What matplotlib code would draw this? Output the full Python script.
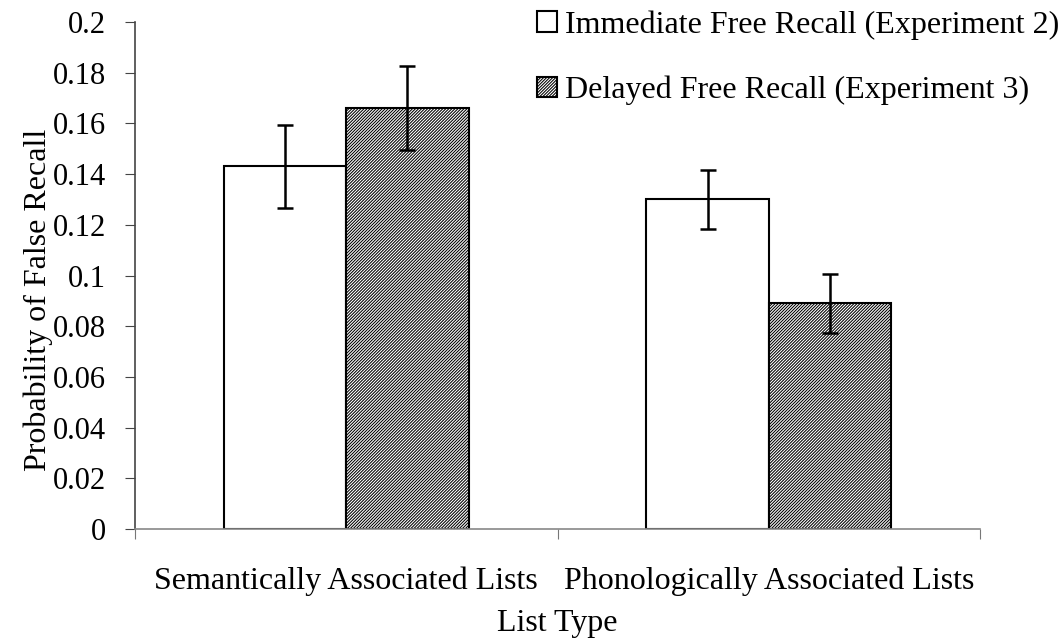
import matplotlib
matplotlib.use("Agg")
import matplotlib.pyplot as plt
import numpy as np

categories = ["Semantically Associated Lists", "Phonologically Associated Lists"]
series = ["Immediate Free Recall (Experiment 2)", "Delayed Free Recall (Experiment 3)"]
immediate = [0.143, 0.130]
immediate_err = [0.0165, 0.0115]
delayed = [0.166, 0.089]
delayed_err = [0.0165, 0.0115]
yticks = [0, 0.02, 0.04, 0.06, 0.08, 0.1, 0.12, 0.14, 0.16, 0.18, 0.2]
ytick_labels = ["0", "0.02", "0.04", "0.06", "0.08", "0.1", "0.12", "0.14", "0.16", "0.18", "0.2"]

plt.rcParams['font.family'] = ['Liberation Serif', 'DejaVu Serif']
plt.rcParams['hatch.linewidth'] = 0.75

fig = plt.figure(figsize=(10.61, 6.39), dpi=100)
ax = fig.add_axes([0.1272, 0.1721, 0.7965, 0.7935])

x = np.arange(len(categories))
w = 0.29
err_kw = dict(ecolor='black', capsize=6, elinewidth=1.8, capthick=1.8)
b1 = ax.bar(x - w / 2, immediate, w, yerr=immediate_err, color='white',
            edgecolor='black', linewidth=1.5, error_kw=err_kw, label=series[0])
b2 = ax.bar(x + w / 2, delayed, w, yerr=delayed_err, color='white',
            edgecolor='black', linewidth=1.5, hatch='/' * 11, error_kw=err_kw,
            label=series[1])

ax.set_xlim(-0.5, 1.5)
ax.set_ylim(0, 0.2)
ax.set_yticks(yticks)
ax.set_yticklabels(ytick_labels, fontsize=22)
ax.set_xticks([-0.5, 0.5, 1.5])
ax.set_xticklabels([])
ax.set_xticks(x, minor=True)
ax.set_xticklabels(categories, minor=True, fontsize=23)
ax.tick_params(axis='x', which='minor', length=0, pad=27)
ax.tick_params(axis='x', which='major', length=7, color='#777777', direction='out')
ax.tick_params(axis='y', length=7, color='#444444', direction='out', pad=14)

for s in ['top', 'right']:
    ax.spines[s].set_visible(False)
ax.spines['left'].set_color('#444444')
ax.spines['bottom'].set_color('#888888')
for s in ['left', 'bottom']:
    ax.spines[s].set_linewidth(1.2)

ax.set_ylabel("Probability of False Recall", fontsize=23)
ax.yaxis.set_label_coords(-0.097, 0.452)
ax.set_xlabel("List Type", fontsize=23, labelpad=9)

fig.legend(handles=[b1, b2], labels=series, loc='upper left',
           bbox_to_anchor=(0.4945, 1.004), frameon=False, fontsize=23,
           handlelength=0.6, handleheight=0.6, handletextpad=0.25,
           labelspacing=1.12, borderaxespad=0)

fig.savefig("out.png", dpi=100)
